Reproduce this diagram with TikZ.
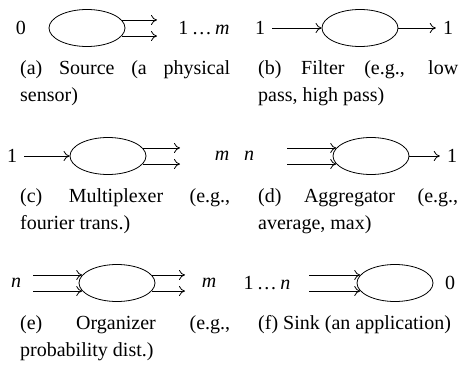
\documentclass[tikz,border=0pt]{standalone}
\usepackage{fontspec}
\setmainfont{Liberation Serif}
\usetikzlibrary{shapes.geometric,arrows.meta}
\tolerance=10000
\hyphenpenalty=10000
\begin{document}
\begin{tikzpicture}[x=1pt,y=-1pt,
	proc/.style={draw,ellipse,minimum width=76pt,minimum height=37pt,inner sep=0pt,line width=0.8pt},
	flow/.style={line width=0.8pt,-{To[length=6pt,width=10pt]}},
	lbl/.style={inner xsep=7pt,inner ysep=0pt,font=\fontsize{20}{24}\selectfont},
	capt/.style={inner sep=0pt,anchor=north west,align=justify,font=\fontsize{20}{27}\selectfont}]
	\useasboundingbox (0,0) rectangle (468,370);
	% (a) source
	\node [lbl] (srcin) at (21,28) {0};
	\node [proc] (src) at (87,28) {};
	\coordinate (srcend) at (157,28);
	\node [lbl] (srcout) at (204,28) {1\,\ldots\,\textit{m}};
	\draw [flow] (src.13) -- (srcend |- src.13);
	\draw [flow] (src.-13) -- (srcend |- src.-13);
	\node [capt,text width=210pt] (srccap) at (20,60) {(a) Source (a physical\linebreak sensor)};
	% (b) filter
	\node [lbl] (filin) at (260,28) {1};
	\node [proc] (fil) at (360,28) {};
	\node [lbl] (filout) at (448,28) {1};
	\draw [flow] (filin) -- (fil);
	\draw [flow] (fil) -- (filout);
	\node [capt,text width=200pt] (filcap) at (258,60) {(b) Filter (e.g., low\linebreak pass, high pass)};
	% (c) multiplexer
	\node [lbl] (muxin) at (12,156) {1};
	\node [proc] (mux) at (108,156) {};
	\coordinate (muxend) at (180,156);
	\node [lbl] (muxout) at (222,156) {\textit{m}};
	\draw [flow] (muxin) -- (mux);
	\draw [flow] (mux.13) -- (muxend |- mux.13);
	\draw [flow] (mux.-13) -- (muxend |- mux.-13);
	\node [capt,text width=210pt] (muxcap) at (20,188) {(c) Multiplexer (e.g.,\linebreak fourier trans.)};
	% (d) aggregator
	\node [lbl] (aggin) at (249,156) {\textit{n}};
	\coordinate (aggstart) at (287,156);
	\node [proc] (agg) at (371,156) {};
	\node [lbl] (aggout) at (452,156) {1};
	\draw [flow] (aggstart |- agg.167) -- (agg.167);
	\draw [flow] (aggstart |- agg.193) -- (agg.193);
	\draw [flow] (agg) -- (aggout);
	\node [capt,text width=200pt] (aggcap) at (258,188) {(d) Aggregator (e.g.,\linebreak average, max)};
	% (e) organizer
	\node [lbl] (orgin) at (16,283) {\textit{n}};
	\coordinate (orgstart) at (33,283);
	\node [proc] (org) at (117,283) {};
	\coordinate (orgend) at (185,283);
	\node [lbl] (orgout) at (209,283) {\textit{m}};
	\draw [flow] (orgstart |- org.167) -- (org.167);
	\draw [flow] (orgstart |- org.193) -- (org.193);
	\draw [flow] (org.13) -- (orgend |- org.13);
	\draw [flow] (org.-13) -- (orgend |- org.-13);
	\node [capt,text width=210pt] (orgcap) at (20,315) {(e) Organizer (e.g.,\linebreak probability dist.)};
	% (f) sink
	\node [lbl] (snkin) at (267,283) {1\,\ldots\,\textit{n}};
	\coordinate (snkstart) at (309,283);
	\node [proc] (snk) at (395,283) {};
	\node [lbl] (snkout) at (450,283) {0};
	\draw [flow] (snkstart |- snk.167) -- (snk.167);
	\draw [flow] (snkstart |- snk.193) -- (snk.193);
	\node [capt,text width=200pt] (snkcap) at (258,315) {(f) Sink (an application)};
\end{tikzpicture}
\end{document}
